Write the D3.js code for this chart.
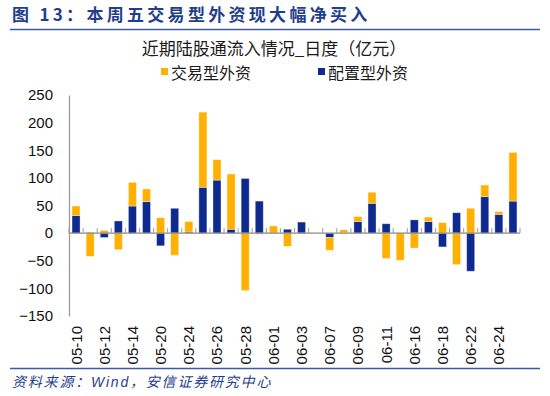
<!DOCTYPE html>
<html>
<head>
<meta charset="utf-8">
<script src="https://cdn.jsdelivr.net/npm/d3@7"></script>
<style>
  body { margin: 0; background: #fff; }
  svg { display: block; }
</style>
</head>
<body>
<div id="chart"></div>
<script>
// dates and daily flows (亿元)
var dates = ["05-10","05-11","05-12","05-13","05-14","05-17","05-20","05-21","05-24","05-25",
             "05-26","05-27","05-28","05-31","06-01","06-02","06-03","06-04","06-07","06-08",
             "06-09","06-10","06-11","06-15","06-16","06-17","06-18","06-21","06-22","06-23",
             "06-24","06-25"];
var peizhi = [32, 1, -8, 22, 49, 57, -23, 45, 2, 83, 96, 7, 99, 58, 0, 7,
              20, 0, -8, 1, 21, 54, 17, 0, 24, 21, -25, 37, -69, 66, 34, 58];
var jiaoyi = [17, -42, 5, -30, 43, 23, 28, -40, 19, 136, 37, 100, -104, -2, 13, -24,
              -1, 0, -23, 5, 9, 20, -46, -49, -27, 8, 19, -57, 45, 21, 5, 88];
var yTicks = [-150, -100, -50, 0, 50, 100, 150, 200, 250];
var xLabels = dates.filter(function(d, i) { return i % 2 == 0; });

var W = 550, H = 396;
var blue = "#0f2a8e", orange = "#ffb000", navy = "#1f3e8c";
var cjk = "'Noto Sans CJK SC', sans-serif";
var latin = "'Liberation Sans', Arial, sans-serif";

var svg = d3.select("#chart").append("svg")
    .attr("width", W)
    .attr("height", H);

// header
svg.append("text")
    .attr("x", 12).attr("y", 21)
    .style("font-family", cjk)
    .style("font-weight", "bold")
    .style("font-size", "17px")
    .style("letter-spacing", "3.3px")
    .style("fill", navy)
    .text("图 13：本周五交易型外资现大幅净买入");
svg.append("line")
    .attr("x1", 10).attr("x2", 540).attr("y1", 29.5).attr("y2", 29.5)
    .style("stroke", "#3b5aa5").style("stroke-width", 1.5);

// chart title + legend
svg.append("text")
    .attr("x", 274).attr("y", 55)
    .attr("text-anchor", "middle")
    .style("font-family", cjk)
    .style("font-size", "17px")
    .style("fill", "#1a1a1a")
    .text("近期陆股通流入情况_日度（亿元）");

var legend = [{name: "交易型外资", color: orange, x: 161},
              {name: "配置型外资", color: blue, x: 318}];
var lg = svg.selectAll(".lg").data(legend).enter().append("g")
    .attr("transform", function(d) { return "translate(" + d.x + ",68)"; });
lg.append("rect").attr("width", 7).attr("height", 7).style("fill", function(d) { return d.color; });
lg.append("text")
    .attr("x", 10).attr("y", 10.5)
    .style("font-family", cjk)
    .style("font-size", "16px")
    .style("fill", "#1a1a1a")
    .text(function(d) { return d.name; });

// scales
var x = d3.scaleBand().domain(dates).range([69, 520]).paddingInner(0.43).paddingOuter(0.215);
var y = d3.scaleLinear().domain([-150, 250]).range([316, 95]);

var rows = dates.map(function(d, i) { return {date: d, peizhi: peizhi[i], jiaoyi: jiaoyi[i]}; });
var series = d3.stack().keys(["peizhi", "jiaoyi"]).offset(d3.stackOffsetDiverging)(rows);
var colors = {peizhi: blue, jiaoyi: orange};

svg.append("g").selectAll("g")
  .data(series)
  .enter().append("g")
    .style("fill", function(s) { return colors[s.key]; })
  .selectAll("rect")
  .data(function(s) { return s; })
  .enter().append("rect")
    .attr("x", function(d) { return x(d.data.date); })
    .attr("width", x.bandwidth())
    .attr("y", function(d) { return y(Math.max(d[0], d[1])); })
    .attr("height", function(d) { return Math.abs(y(d[0]) - y(d[1])); })
    .style("stroke", "#fff").style("stroke-opacity", 0.45).style("stroke-width", 0.8);

// y axis
var yAxis = svg.append("g")
    .attr("transform", "translate(69,0)")
    .call(d3.axisLeft(y).tickValues(yTicks).tickSize(0).tickPadding(16));
yAxis.select(".domain").style("stroke", "#9a9a9a").style("stroke-width", 1.3);
yAxis.selectAll("text")
    .style("font-family", latin).style("font-size", "15px").style("fill", "#111");

// x axis at zero with ticks between categories
var step = x.step();
var zero = y(0);
svg.append("line")
    .attr("x1", 69).attr("x2", 520).attr("y1", zero).attr("y2", zero)
    .style("stroke", "#8a8a8a").style("stroke-width", 1.3);
svg.append("g").selectAll("line")
  .data(d3.range(dates.length + 1))
  .enter().append("line")
    .attr("x1", function(i) { return x.range()[0] + i * step; })
    .attr("x2", function(i) { return x.range()[0] + i * step; })
    .attr("y1", zero - 5).attr("y2", zero)
    .style("stroke", "#9a9a9a").style("stroke-width", 1);

svg.append("g").selectAll("text")
  .data(xLabels)
  .enter().append("text")
    .attr("transform", function(d) {
      return "translate(" + (x(d) + x.bandwidth() / 2 + 5.5) + ",326) rotate(-90)";
    })
    .attr("text-anchor", "end")
    .style("font-family", latin)
    .style("font-size", "15px")
    .style("fill", "#111")
    .text(function(d) { return d; });

// footer
svg.append("line")
    .attr("x1", 10).attr("x2", 540).attr("y1", 368.5).attr("y2", 368.5)
    .style("stroke", "#3b5aa5").style("stroke-width", 1.5);
svg.append("text")
    .attr("x", 12).attr("y", 387)
    .style("font-family", cjk)
    .style("font-style", "italic")
    .style("font-size", "14px")
    .style("letter-spacing", "1.8px")
    .style("fill", navy)
    .text("资料来源：")
  .append("tspan")
    .style("font-family", latin)
    .text("Wind")
  .append("tspan")
    .style("font-family", cjk)
    .text("，安信证券研究中心");
</script>
</body>
</html>
